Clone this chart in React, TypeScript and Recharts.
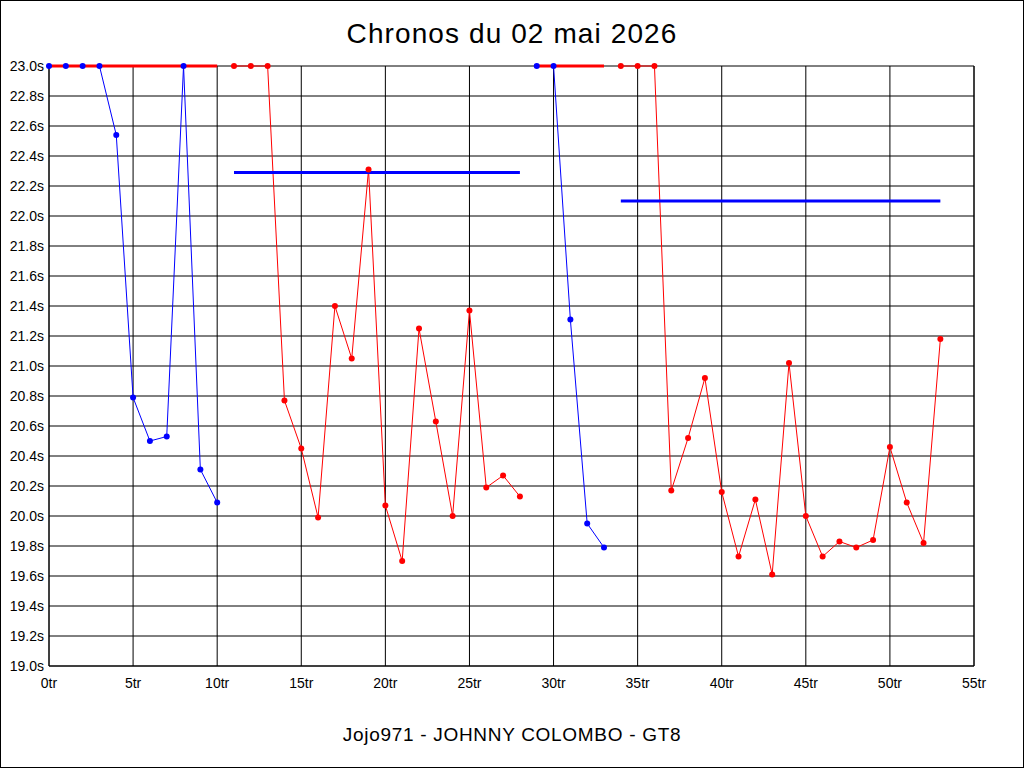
import { CartesianGrid, ComposedChart, Line, XAxis, YAxis } from "recharts";

// tours et chronos, par relais
const seg1Laps = [0, 1, 2, 3, 4, 5, 6, 7, 8, 9, 10];
const seg1Times = [23.0, 23.0, 23.0, 23.0, 22.54, 20.79, 20.5, 20.53, 23.0, 20.31, 20.09];

const seg2Laps = [11, 12, 13, 14, 15, 16, 17, 18, 19, 20, 21, 22, 23, 24, 25, 26, 27, 28];
const seg2Times = [
  23.0, 23.0, 23.0, 20.77, 20.45, 19.99, 21.4, 21.05, 22.31, 20.07, 19.7, 21.25, 20.63, 20.0,
  21.37, 20.19, 20.27, 20.13,
];

const seg3Laps = [29, 30, 31, 32, 33];
const seg3Times = [23.0, 23.0, 21.31, 19.95, 19.79];

const seg4Laps = [34, 35, 36, 37, 38, 39, 40, 41, 42, 43, 44, 45, 46, 47, 48, 49, 50, 51, 52, 53];
const seg4Times = [
  23.0, 23.0, 23.0, 20.17, 20.52, 20.92, 20.16, 19.73, 20.11, 19.61, 21.02, 20.0, 19.73, 19.83,
  19.79, 19.84, 20.46, 20.09, 19.82, 21.18,
];

// moyennes des relais (debut, fin, valeur)
const meanStarts = [0, 11, 29, 34];
const meanEnds = [10, 28, 33, 53];
const meanTimes = [23.0, 22.29, 23.0, 22.1];

const xTicks = [0, 5, 10, 15, 20, 25, 30, 35, 40, 45, 50, 55];
const yTicks = [
  19.0, 19.2, 19.4, 19.6, 19.8, 20.0, 20.2, 20.4, 20.6, 20.8, 21.0, 21.2, 21.4, 21.6, 21.8, 22.0,
  22.2, 22.4, 22.6, 22.8, 23.0,
];

const BLUE = "#0000ff";
const RED = "#ff0000";
const FONT = "'Liberation Sans', Arial, sans-serif";

const toPoints = (laps: number[], times: number[]) =>
  laps.map((lap, i) => ({ lap, time: times[i] }));

const segments = [
  { data: toPoints(seg1Laps, seg1Times), color: BLUE },
  { data: toPoints(seg2Laps, seg2Times), color: RED },
  { data: toPoints(seg3Laps, seg3Times), color: BLUE },
  { data: toPoints(seg4Laps, seg4Times), color: RED },
];

// la moyenne prend la couleur opposee au relais
const means = meanStarts.map((start, i) => ({
  data: [
    { lap: start, time: meanTimes[i] },
    { lap: meanEnds[i], time: meanTimes[i] },
  ],
  color: segments[i].color === BLUE ? RED : BLUE,
}));

const tickStyle = { fill: "#000", fontSize: 14, fontFamily: FONT };

export default function App() {
  return (
    <div
      style={{
        position: "absolute",
        left: 0,
        top: 0,
        width: 1024,
        height: 768,
        background: "#fff",
        fontFamily: FONT,
      }}
    >
      <ComposedChart
        width={1024}
        height={768}
        margin={{ top: 66, right: 0, bottom: 72, left: 0 }}
      >
        <CartesianGrid yAxisId="left" stroke="#000" strokeWidth={1} />
        <XAxis
          dataKey="lap"
          type="number"
          domain={[0, 55]}
          ticks={xTicks}
          interval={0}
          allowDuplicatedCategory={false}
          tickFormatter={(v: number) => `${v}tr`}
          tick={tickStyle}
          tickLine={false}
          tickSize={0}
          tickMargin={12}
          height={30}
          axisLine={{ stroke: "#000" }}
        />
        <YAxis
          yAxisId="left"
          type="number"
          domain={[19, 23]}
          ticks={yTicks}
          interval={0}
          tickFormatter={(v: number) => `${v.toFixed(1)}s`}
          tick={tickStyle}
          tickLine={false}
          tickSize={0}
          tickMargin={5}
          width={49}
          axisLine={{ stroke: "#000" }}
        />
        <YAxis
          yAxisId="right"
          orientation="right"
          type="number"
          domain={[19, 23]}
          ticks={yTicks}
          interval={0}
          tickFormatter={(v: number) => `${v.toFixed(1)}s`}
          tick={tickStyle}
          tickLine={false}
          tickSize={0}
          tickMargin={3}
          width={50}
          axisLine={{ stroke: "#000" }}
        />
        {segments.map((s, i) => (
          <Line
            key={`line-${i}`}
            yAxisId="left"
            data={s.data}
            dataKey="time"
            type="linear"
            stroke={s.color}
            strokeWidth={1}
            dot={false}
            activeDot={false}
            isAnimationActive={false}
          />
        ))}
        {means.map((m, i) => (
          <Line
            key={`mean-${i}`}
            yAxisId="left"
            data={m.data}
            dataKey="time"
            type="linear"
            stroke={m.color}
            strokeWidth={3}
            dot={false}
            activeDot={false}
            isAnimationActive={false}
          />
        ))}
        {segments.map((s, i) => (
          <Line
            key={`dots-${i}`}
            yAxisId="left"
            data={s.data}
            dataKey="time"
            type="linear"
            stroke="none"
            dot={{ r: 3, fill: s.color, stroke: s.color, strokeWidth: 0 }}
            activeDot={false}
            isAnimationActive={false}
          />
        ))}
      </ComposedChart>
      <div
        style={{
          position: "absolute",
          left: 0,
          top: 18,
          width: 1024,
          textAlign: "center",
          fontSize: 28,
          letterSpacing: 1.1,
          color: "#000",
        }}
      >
        Chronos du 02 mai 2026
      </div>
      <div
        style={{
          position: "absolute",
          left: 0,
          top: 724,
          width: 1024,
          textAlign: "center",
          fontSize: 19,
          letterSpacing: 0.7,
          color: "#000",
        }}
      >
        Jojo971 - JOHNNY COLOMBO - GT8
      </div>
      <div
        style={{
          position: "absolute",
          left: 0,
          top: 0,
          width: 1024,
          height: 768,
          border: "1px solid #000",
          boxSizing: "border-box",
          pointerEvents: "none",
        }}
      />
    </div>
  );
}
